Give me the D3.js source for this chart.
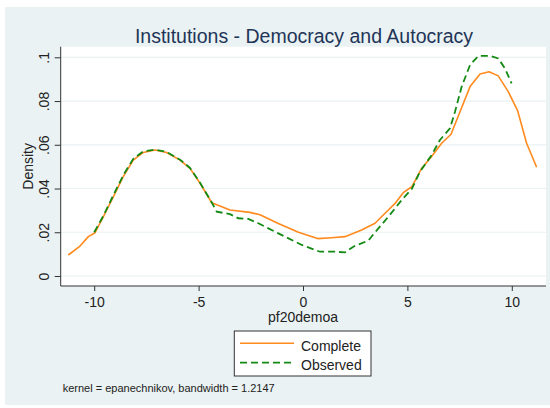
<!DOCTYPE html>
<html>
<head>
<meta charset="utf-8">
<script src="https://cdn.jsdelivr.net/npm/d3@7"></script>
<style>
  html, body { margin: 0; padding: 0; background: #ffffff; }
  svg { display: block; }
  text { font-family: "Liberation Sans", Arial, sans-serif; }
</style>
</head>
<body>
<svg id="chart" width="550" height="408"></svg>
<script>
// ---- data ----
const titleText = "Institutions - Democracy and Autocracy";
const xLabel = "pf20demoa";
const yLabel = "Density";
const noteText = "kernel = epanechnikov, bandwidth = 1.2147";
const seriesNames = ["Complete", "Observed"];

const xTicks = [-10, -5, 0, 5, 10];
const xTickLabels = ["-10", "-5", "0", "5", "10"];
const yTicks = [0, 0.02, 0.04, 0.06, 0.08, 0.1];
const yTickLabels = ["0", ".02", ".04", ".06", ".08", ".1"];

const completeX = [-11.24, -10.68, -10.28, -9.96, -9.56, -9.08, -8.61, -8.13, -7.65, -7.09, -6.53, -5.89, -5.41, -4.93, -4.37, -3.5, -2.54, -2.06, -1.18, -0.22, 0.7, 1.37, 2.01, 2.81, 3.45, 3.93, 4.41, 4.80, 5.21, 5.68, 6.16, 6.64, 7.09, 7.52, 8.0, 8.48, 8.91, 9.35, 9.83, 10.28, 10.71, 11.19];
const completeY = [0.0096, 0.0137, 0.0180, 0.0198, 0.0271, 0.0363, 0.0454, 0.0530, 0.0565, 0.0576, 0.0565, 0.0530, 0.0492, 0.0424, 0.0335, 0.0302, 0.0291, 0.0280, 0.0240, 0.0200, 0.0171, 0.0175, 0.0180, 0.0210, 0.0241, 0.0287, 0.0332, 0.0381, 0.0408, 0.0492, 0.0546, 0.0607, 0.0648, 0.0751, 0.0866, 0.0924, 0.0934, 0.0915, 0.0843, 0.0756, 0.0607, 0.0497];

const observedX = [-10.0, -9.56, -9.08, -8.61, -8.13, -7.65, -7.09, -6.53, -5.89, -5.41, -4.93, -4.37, -4.13, -3.5, -3.1, -2.62, -2.14, -1.18, -0.06, 0.81, 1.53, 2.01, 2.41, 3.13, 3.61, 4.09, 4.73, 5.21, 5.60, 6.16, 6.56, 7.04, 7.28, 7.60, 8.0, 8.40, 8.96, 9.35, 9.67, 9.99];
const observedY = [0.0200, 0.0275, 0.0370, 0.0460, 0.0536, 0.0570, 0.0578, 0.0567, 0.0532, 0.0494, 0.0426, 0.0336, 0.0294, 0.0283, 0.0264, 0.0261, 0.0241, 0.0195, 0.0142, 0.0111, 0.0111, 0.0108, 0.0134, 0.0162, 0.0218, 0.0271, 0.0348, 0.0398, 0.0477, 0.0553, 0.0622, 0.0675, 0.0751, 0.0866, 0.0965, 0.1006, 0.1007, 0.0995, 0.0950, 0.0881];

// ---- layout ----
const svg = d3.select("#chart");
const bg = "#eaf2f3";
const plot = { left: 60.7, right: 546, top: 46.7, bottom: 286 };

const x = d3.scaleLinear().domain([-11.6, 11.6]).range([60.8, 545.2]);
const y = d3.scaleLinear().domain([0, 0.1]).range([276, 57.3]);

// background
svg.append("rect").attr("x", 5).attr("y", 7).attr("width", 545).attr("height", 398).attr("fill", bg);
// plot region
svg.append("rect").attr("x", plot.left).attr("y", plot.top)
  .attr("width", plot.right - plot.left).attr("height", plot.bottom - plot.top).attr("fill", "#ffffff");

// gridlines
svg.append("g").selectAll("line").data(yTicks).join("line")
  .attr("x1", plot.left).attr("x2", plot.right)
  .attr("y1", d => y(d)).attr("y2", d => y(d))
  .attr("stroke", bg).attr("stroke-width", 1.2);

// axes
const axisColor = "#333333";
const xAxis = d3.axisBottom(x).tickValues(xTicks).tickFormat((d, i) => xTickLabels[i]).tickSize(5).tickSizeOuter(0);
const gx = svg.append("g").attr("transform", `translate(0,${plot.bottom})`).call(xAxis);
gx.select(".domain").remove();
gx.append("line").attr("x1", plot.left).attr("x2", plot.right).attr("y1", 0).attr("y2", 0)
  .attr("stroke", axisColor).attr("stroke-width", 1);
gx.selectAll(".tick line").attr("stroke", axisColor);
gx.selectAll(".tick text").attr("font-size", "14px").attr("fill", "#222").attr("y", 0).attr("dy", null)
  .attr("transform", "translate(0,20.5)");

const yAxis = d3.axisLeft(y).tickValues(yTicks).tickFormat((d, i) => yTickLabels[i]).tickSize(6).tickSizeOuter(0);
const gy = svg.append("g").attr("transform", `translate(${plot.left},0)`).call(yAxis);
gy.select(".domain").remove();
gy.append("line").attr("x1", 0).attr("x2", 0).attr("y1", plot.top).attr("y2", plot.bottom)
  .attr("stroke", axisColor).attr("stroke-width", 1);
gy.selectAll(".tick line").attr("stroke", axisColor);
gy.selectAll(".tick text").attr("font-size", "14px").attr("fill", "#222")
  .attr("x", null).attr("dy", null).attr("text-anchor", "middle")
  .attr("transform", "translate(-11.3,0) rotate(-90)");

// lines
const completeData = completeX.map((v, i) => [v, completeY[i]]);
const observedData = observedX.map((v, i) => [v, observedY[i]]);
const line = d3.line().x(d => x(d[0])).y(d => y(d[1]));
const orange = "#ff8a1e";
const green = "#138a13";

svg.append("path").datum(completeData).attr("d", line)
  .attr("fill", "none").attr("stroke", orange).attr("stroke-width", 1.6).attr("stroke-linejoin", "round");
svg.append("path").datum(observedData).attr("d", line)
  .attr("fill", "none").attr("stroke", green).attr("stroke-width", 1.8).attr("stroke-dasharray", "7,4");

// title
svg.append("text").attr("x", 304).attr("y", 42.5).attr("text-anchor", "middle")
  .attr("font-size", "19.5px").attr("fill", "#1f3558").text(titleText);

// axis titles
svg.append("text").attr("x", 303).attr("y", 322).attr("text-anchor", "middle")
  .attr("font-size", "14px").attr("fill", "#222").text(xLabel);
svg.append("text").attr("transform", `translate(33,${(plot.top + plot.bottom) / 2}) rotate(-90)`)
  .attr("text-anchor", "middle").attr("font-size", "14px").attr("fill", "#222").text(yLabel);

// legend
const lg = svg.append("g");
lg.append("rect").attr("x", 234.3).attr("y", 331).attr("width", 136.7).attr("height", 45)
  .attr("fill", "#ffffff").attr("stroke", "#333").attr("stroke-width", 1);
const legendRows = [
  { name: seriesNames[0], color: orange, dash: null, w: 1.6, yy: 343.3 },
  { name: seriesNames[1], color: green, dash: "7,4", w: 1.8, yy: 362.7 }
];
legendRows.forEach(r => {
  lg.append("line").attr("x1", 240).attr("x2", 294).attr("y1", r.yy).attr("y2", r.yy)
    .attr("stroke", r.color).attr("stroke-width", r.w).attr("stroke-dasharray", r.dash);
  lg.append("text").attr("x", 301).attr("y", r.yy + 7.3).attr("font-size", "14px").attr("fill", "#222").text(r.name);
});

// note
svg.append("text").attr("x", 62.7).attr("y", 392).attr("font-size", "11px").attr("fill", "#222").text(noteText);
</script>
</body>
</html>
